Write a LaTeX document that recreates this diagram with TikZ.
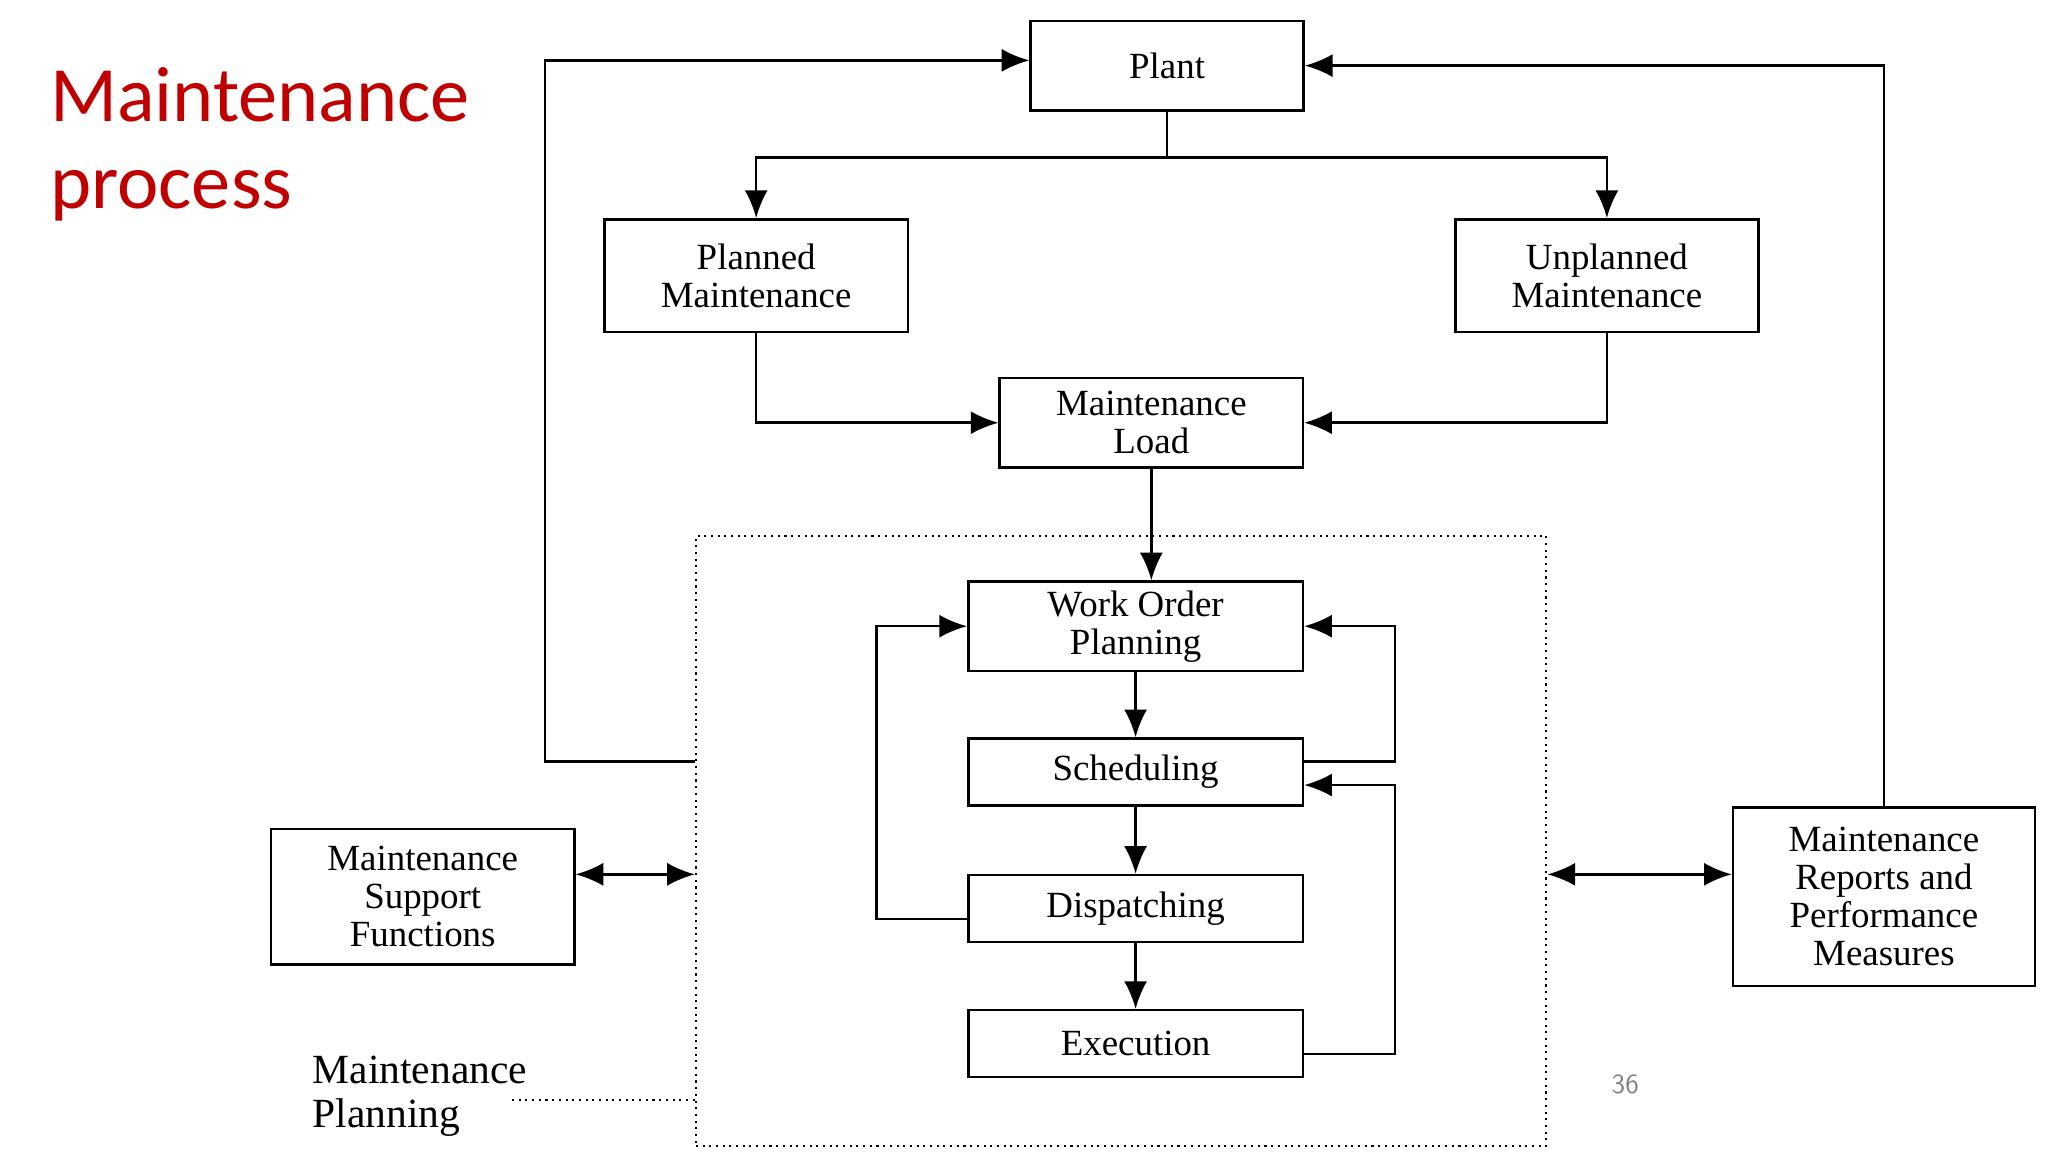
\documentclass[tikz,border=0pt]{standalone}
\usepackage{fontspec}
\setmainfont{Liberation Serif}
\newfontfamily\titlefont{Carlito}
\usetikzlibrary{positioning,arrows.meta,calc}
\definecolor{titlered}{RGB}{192,0,0}
\begin{document}
\begin{tikzpicture}[x=0.02cm,y=-0.02cm,
  block/.style={draw, line width=1.1pt, align=center, inner sep=0pt,
    font=\fontsize{16}{16.5}\selectfont},
  flow/.style={line width=1.1pt, -{Latex[length=12pt,width=10pt]}},
  both/.style={line width=1.1pt, {Latex[length=12pt,width=10pt]}-{Latex[length=12pt,width=10pt]}},
  planbox/.style={draw, dotted, line width=0.9pt, minimum width=12.96cm, minimum height=9.3cm}
  ]
  \useasboundingbox (0,0) rectangle (1560,878);
  \node[anchor=north west, align=left, text=titlered, font=\titlefont\fontsize{34}{38}\selectfont] (title) at (32,45) {Maintenance\\process};

  \node[block, minimum width=4.16cm, minimum height=1.36cm] (plant) at (889,50) {Plant};
  \node[block, minimum width=4.62cm, minimum height=1.72cm] (planned) at (576,210) {Planned\\Maintenance};
  \node[block, minimum width=4.62cm, minimum height=1.72cm] (unplanned) at (1224,210) {Unplanned\\Maintenance};
  \node[block, minimum width=4.62cm, minimum height=1.36cm] (load) at (877,322) {Maintenance\\Load};
  \node[planbox] (planning) at (854,640.5) {};
  \node[block, minimum width=5.1cm, minimum height=1.36cm] (wop) at (865,477) {Work Order\\Planning};
  \node[block, minimum width=5.1cm, minimum height=1.02cm] (sched) at (865,588) {Scheduling};
  \node[block, minimum width=5.1cm, minimum height=1.02cm] (disp) at (865,692) {Dispatching};
  \node[block, minimum width=5.1cm, minimum height=1.02cm] (exec) at (865,795) {Execution};
  \node[block, minimum width=4.62cm, minimum height=2.06cm] (support) at (322,683) {Maintenance\\Support\\Functions};
  \node[block, minimum width=4.6cm, minimum height=2.72cm] (reports) at (1435,683) {Maintenance\\Reports and\\Performance\\Measures};
  \node[anchor=west, align=left, font=\fontsize{18}{19}\selectfont] (planlabel) at (232,835) {Maintenance\\Planning};
  \node[text=gray, font=\sffamily\fontsize{12}{14}\selectfont] (page) at (1238,826) {36};

  \coordinate (split) at (889,120);
  \draw[line width=1.1pt] (plant.south) -- (split);
  \draw[flow] (split) -| (planned.north);
  \draw[flow] (split) -| (unplanned.north);
  \draw[flow] (planned.south) |- (load.west);
  \draw[flow] (unplanned.south) |- (load.east);
  \draw[flow] (load.south) -- (load.south |- wop.north);
  \draw[flow] (wop) -- (sched);
  \draw[flow] (sched) -- (disp);
  \draw[flow] (disp) -- (exec);
  \draw[flow] ([yshift=0.16cm]sched.east) -- ++(69,0) |- (wop.east);
  \draw[flow] (exec.east) ++(0,8) -- ++(69,0) |- ([yshift=-0.2cm]sched.east);
  \draw[flow] ([yshift=-0.16cm]disp.west) -- ++(-69,0) |- (wop.west);
  \draw[flow] (planning.west |- 0,580) -- (415,580) |- ([yshift=0.08cm]plant.west);
  \draw[flow] (reports.north) |- (plant.east);
  \draw[both] (support.east |- 0,666) -- (planning.west |- 0,666);
  \draw[both] (planning.east |- 0,666) -- (reports.west |- 0,666);
  \draw[dotted, line width=0.9pt] (390,838) -- (planning.west |- 0,838);
\end{tikzpicture}
\end{document}
